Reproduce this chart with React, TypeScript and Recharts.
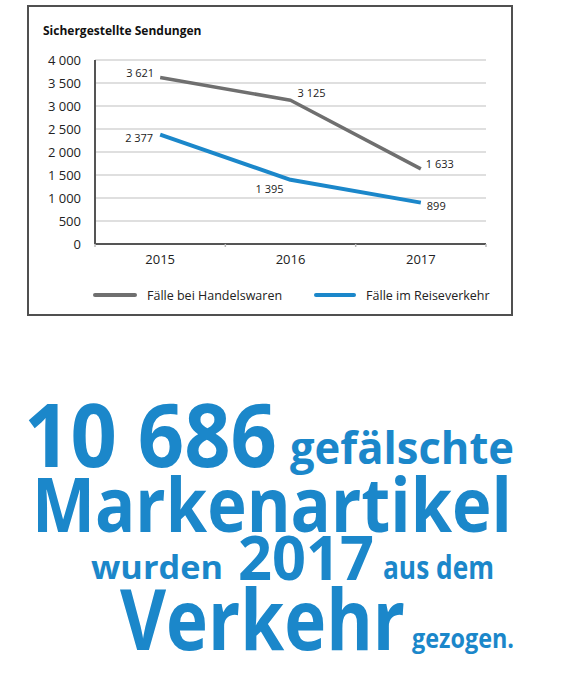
import { LineChart, Line, XAxis, YAxis, CartesianGrid, Legend, LabelList } from 'recharts'

const years = ['2015', '2016', '2017']
const handelswaren = [3621, 3125, 1633]
const reiseverkehr = [2377, 1395, 899]
const yTicks = [0, 500, 1000, 1500, 2000, 2500, 3000, 3500, 4000]

const seriesNames = ['Fälle bei Handelswaren', 'Fälle im Reiseverkehr']
const title = 'Sichergestellte Sendungen'

const data = years.map((y, i) => ({ year: y, handel: handelswaren[i], reise: reiseverkehr[i] }))

const GRAY = '#6f6f6f'
const BLUE = '#1b87ca'
const FONT = '"Open Sans", "Noto Sans", sans-serif'

const fmt = (v: number) => String(v).replace(/\B(?=(\d{3})+(?!\d))/g, ' ')

// label placement per point: [dx, dy, anchor]
const handelPlace: [number, number, string][] = [[-6, 0, 'end'], [7, -3.5, 'start'], [5, -1, 'start']]
const reisePlace: [number, number, string][] = [[-7, 7, 'end'], [-7, 13, 'end'], [6, 7.5, 'start']]

const makeLabel = (place: [number, number, string][]) => (props: any) => {
  const { x, y, value, index } = props
  const [dx, dy, anchor] = place[index]
  return (
    <text x={x + dx} y={y + dy} textAnchor={anchor} fontSize={11} fill="#222" fontFamily={FONT}>
      {fmt(value)}
    </text>
  )
}

const XTick = (props: any) => {
  const { x, y, payload, index } = props
  const off = payload.offset || 0
  return (
    <g>
      <text x={x} y={y + 12} textAnchor="middle" fontSize={13} fill="#222" fontFamily={FONT}>{payload.value}</text>
      {off > 0 && (
        <line x1={x + off} x2={x + off} y1={y - 8} y2={y - 5} stroke="#bbb" strokeWidth={1.5} />
      )}
      {off > 0 && index === 0 && (
        <line x1={x - off} x2={x - off} y1={y - 8} y2={y - 5} stroke="#bbb" strokeWidth={1.5} />
      )}
    </g>
  )
}

const LegendContent = () => {
  const colors = [GRAY, BLUE]
  const widths = [44, 42]
  return (
    <div style={{ display: 'flex', alignItems: 'center', paddingLeft: 93, height: 42, fontFamily: FONT, fontSize: 12.5, color: '#222', whiteSpace: 'nowrap' }}>
      {seriesNames.map((n, i) => (
        <div key={n} style={{ display: 'flex', alignItems: 'center', marginRight: 32 }}>
          <div style={{ width: widths[i], height: 4, borderRadius: 2, background: colors[i], marginRight: 10 }} />
          <span>{n}</span>
        </div>
      ))}
    </div>
  )
}

const big = [
  { t: '10 686', x: 24, y: 467, s: 87, w: 253 },
  { t: 'gefälschte', x: 290, y: 464, s: 44, w: 224 },
  { t: 'Markenartikel', x: 32, y: 532, s: 76, w: 480 },
  { t: 'wurden', x: 91, y: 579, s: 33, w: 132 },
  { t: '2017', x: 238, y: 580, s: 61, w: 136 },
  { t: 'aus dem', x: 383, y: 579, s: 33, w: 111 },
  { t: 'Verkehr', x: 120, y: 650, s: 84, w: 285 },
  { t: 'gezogen.', x: 412, y: 648, s: 27, w: 102 },
]

export default function App() {
  return (
    <div style={{ position: 'absolute', left: 0, top: 0, width: 582, height: 691, background: '#fff' }}>
      <div style={{ position: 'absolute', left: 27, top: 5, width: 486, height: 311, border: '2px solid #505050', boxSizing: 'border-box' }} />
      <div style={{ position: 'absolute', left: 43, top: 22, fontFamily: FONT, fontSize: 12, fontWeight: 700, color: '#111' }}>{title}</div>
      <div style={{ position: 'absolute', left: 0, top: 0 }}>
        <LineChart width={582} height={320} data={data} margin={{ top: 60, right: 96, bottom: 10, left: 35 }}>
          <CartesianGrid vertical={false} stroke="#d4d4d4" strokeWidth={1.5} />
          <XAxis dataKey="year" scale="band" tickLine={false} axisLine={{ stroke: '#555', strokeWidth: 2 }} tick={<XTick />} height={30} />
          <YAxis
            domain={[0, 4000]}
            ticks={yTicks}
            width={60}
            tickLine={false}
            axisLine={{ stroke: '#555', strokeWidth: 2 }}
            tickFormatter={fmt}
            tick={{ fontSize: 13, fill: '#222', fontFamily: FONT }}
            tickMargin={8}
          />
          <Legend verticalAlign="bottom" align="left" height={36} wrapperStyle={{ left: 0, width: 582 }} content={<LegendContent />} />
          <Line dataKey="handel" name={seriesNames[0]} stroke={GRAY} strokeWidth={3.5} dot={false} isAnimationActive={false} strokeLinejoin="round">
            <LabelList dataKey="handel" content={makeLabel(handelPlace)} />
          </Line>
          <Line dataKey="reise" name={seriesNames[1]} stroke={BLUE} strokeWidth={4} dot={false} isAnimationActive={false} strokeLinejoin="round">
            <LabelList dataKey="reise" content={makeLabel(reisePlace)} />
          </Line>
        </LineChart>
      </div>
      <svg style={{ position: 'absolute', left: 0, top: 0 }} width={582} height={691}>
        {big.map(b => (
          <text key={b.t} x={b.x} y={b.y} fontSize={b.s} fontWeight={700} fill={BLUE} fontFamily={FONT}
            textLength={b.w} lengthAdjust="spacingAndGlyphs">{b.t}</text>
        ))}
      </svg>
    </div>
  )
}
